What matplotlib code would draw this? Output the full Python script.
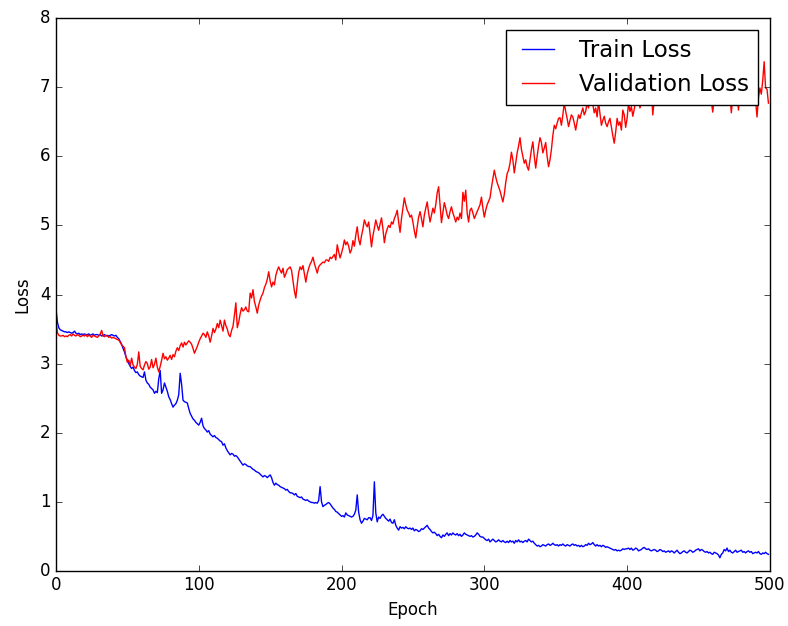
import numpy as np
import matplotlib
matplotlib.use('Agg')
import matplotlib.pyplot as plt

plt.style.use('classic')

# loss per epoch, 500 epochs
train_loss = [
    3.80, 3.60, 3.52, 3.49, 3.48, 3.47, 3.46, 3.46, 3.45, 3.46,
    3.45, 3.44, 3.45, 3.47, 3.44, 3.43, 3.44, 3.42, 3.43, 3.42,
    3.43, 3.42, 3.42, 3.43, 3.41, 3.42, 3.43, 3.41, 3.42, 3.42,
    3.41, 3.42, 3.40, 3.41, 3.42, 3.40, 3.41, 3.40, 3.41, 3.42,
    3.41, 3.40, 3.41, 3.38, 3.36, 3.32, 3.28, 3.22, 3.17, 3.10,
    3.05, 3.00, 2.96, 2.93, 2.95, 2.90, 2.87, 2.88, 2.84, 2.82,
    2.81, 2.80, 2.88, 2.76, 2.72, 2.70, 2.66, 2.64, 2.62, 2.57,
    2.60, 2.58, 2.78, 2.90, 2.57, 2.62, 2.72, 2.66, 2.60, 2.52,
    2.48, 2.42, 2.37, 2.40, 2.42, 2.47, 2.55, 2.86, 2.70, 2.47,
    2.45, 2.44, 2.43, 2.35, 2.28, 2.24, 2.20, 2.18, 2.15, 2.13,
    2.11, 2.15, 2.21, 2.10, 2.06, 2.04, 2.01, 2.03, 1.98, 1.96,
    1.94, 1.96, 1.93, 1.92, 1.90, 1.88, 1.87, 1.82, 1.84, 1.78,
    1.74, 1.71, 1.68, 1.70, 1.69, 1.66, 1.67, 1.65, 1.62, 1.59,
    1.56, 1.53, 1.55, 1.54, 1.52, 1.51, 1.51, 1.49, 1.47, 1.46,
    1.44, 1.43, 1.42, 1.40, 1.38, 1.36, 1.38, 1.37, 1.35, 1.37,
    1.39, 1.35, 1.28, 1.24, 1.27, 1.25, 1.24, 1.22, 1.21, 1.20,
    1.19, 1.17, 1.18, 1.15, 1.13, 1.13, 1.12, 1.10, 1.12, 1.08,
    1.07, 1.06, 1.07, 1.04, 1.03, 1.02, 1.03, 1.01, 1.00, 0.99,
    0.99, 0.98, 0.99, 0.98, 1.02, 1.22, 1.00, 0.93, 0.95, 0.96,
    0.98, 0.99, 0.97, 0.94, 0.91, 0.89, 0.86, 0.85, 0.83, 0.81,
    0.79, 0.80, 0.78, 0.84, 0.81, 0.80, 0.79, 0.78, 0.79, 0.82,
    0.88, 1.10, 0.85, 0.74, 0.69, 0.72, 0.76, 0.75, 0.74, 0.77,
    0.77, 0.73, 0.80, 1.29, 0.84, 0.71, 0.78, 0.76, 0.80, 0.82,
    0.79, 0.76, 0.74, 0.72, 0.75, 0.70, 0.69, 0.74, 0.66, 0.62,
    0.59, 0.64, 0.62, 0.63, 0.61, 0.64, 0.62, 0.61, 0.62, 0.60,
    0.62, 0.58, 0.60, 0.59, 0.57, 0.58, 0.61, 0.60, 0.62, 0.64,
    0.66, 0.62, 0.60, 0.57, 0.55, 0.56, 0.54, 0.51, 0.53, 0.50,
    0.48, 0.52, 0.50, 0.53, 0.55, 0.51, 0.54, 0.52, 0.55, 0.53,
    0.52, 0.54, 0.51, 0.53, 0.50, 0.52, 0.55, 0.53, 0.52, 0.51,
    0.50, 0.51, 0.49, 0.50, 0.52, 0.55, 0.53, 0.50, 0.49, 0.49,
    0.47, 0.45, 0.44, 0.46, 0.42, 0.44, 0.46, 0.44, 0.42, 0.43,
    0.45, 0.43, 0.42, 0.44, 0.42, 0.41, 0.43, 0.41, 0.44, 0.42,
    0.43, 0.40, 0.44, 0.42, 0.45, 0.42, 0.43, 0.41, 0.43, 0.44,
    0.42, 0.46, 0.44, 0.42, 0.43, 0.40, 0.38, 0.36, 0.37, 0.35,
    0.36, 0.38, 0.37, 0.36, 0.38, 0.39, 0.37, 0.38, 0.40, 0.38,
    0.37, 0.38, 0.36, 0.38, 0.37, 0.39, 0.37, 0.36, 0.38, 0.37,
    0.36, 0.38, 0.39, 0.37, 0.38, 0.36, 0.37, 0.35, 0.37, 0.35,
    0.36, 0.38, 0.37, 0.40, 0.38, 0.39, 0.41, 0.38, 0.36, 0.38,
    0.36, 0.37, 0.35, 0.37, 0.36, 0.34, 0.35, 0.34, 0.33, 0.32,
    0.31, 0.30, 0.31, 0.29, 0.30, 0.29, 0.30, 0.32, 0.31, 0.32,
    0.32, 0.33, 0.31, 0.33, 0.30, 0.31, 0.33, 0.32, 0.29, 0.30,
    0.31, 0.33, 0.34, 0.32, 0.31, 0.32, 0.30, 0.29, 0.30, 0.31,
    0.30, 0.28, 0.29, 0.31, 0.30, 0.28, 0.29, 0.27, 0.28, 0.29,
    0.27, 0.29, 0.28, 0.26, 0.28, 0.30, 0.27, 0.25, 0.26, 0.28,
    0.29, 0.27, 0.26, 0.28, 0.30, 0.29, 0.27, 0.28, 0.30, 0.31,
    0.32, 0.29, 0.31, 0.30, 0.28, 0.27, 0.28, 0.26, 0.27, 0.25,
    0.24, 0.27, 0.26, 0.25, 0.23, 0.19, 0.24, 0.26, 0.31, 0.29,
    0.33, 0.28, 0.30, 0.27, 0.26, 0.28, 0.30, 0.27, 0.28, 0.29,
    0.30, 0.27, 0.28, 0.26, 0.28, 0.29, 0.27, 0.28, 0.25, 0.26,
    0.27, 0.26, 0.28, 0.25, 0.24, 0.26, 0.25, 0.27, 0.25, 0.24,
]

val_loss = [
    3.62, 3.45, 3.41, 3.40, 3.40, 3.41, 3.39, 3.40, 3.39, 3.41,
    3.42, 3.40, 3.43, 3.41, 3.40, 3.42, 3.41, 3.39, 3.40, 3.41,
    3.40, 3.42, 3.39, 3.41, 3.40, 3.38, 3.41, 3.40, 3.39, 3.38,
    3.40, 3.43, 3.48, 3.40, 3.39, 3.41, 3.40, 3.38, 3.39, 3.37,
    3.38, 3.37, 3.36, 3.35, 3.34, 3.31, 3.27, 3.25, 3.23, 3.10,
    3.02, 3.05, 2.97, 3.08, 2.98, 2.95, 2.93, 2.99, 3.17, 2.96,
    2.93, 2.91, 2.98, 3.03, 3.00, 2.92, 2.95, 3.06, 2.94, 2.99,
    3.08, 2.95, 2.88, 2.96, 3.05, 3.15, 3.07, 3.10, 3.05, 3.08,
    3.12, 3.06, 3.13, 3.10, 3.18, 3.23, 3.19, 3.26, 3.30, 3.24,
    3.31, 3.27, 3.30, 3.33, 3.31, 3.28, 3.22, 3.15, 3.20, 3.25,
    3.31, 3.36, 3.40, 3.44, 3.42, 3.38, 3.46, 3.40, 3.31, 3.40,
    3.51, 3.45, 3.50, 3.58, 3.52, 3.63, 3.55, 3.47, 3.63, 3.55,
    3.50, 3.42, 3.39, 3.48, 3.54, 3.70, 3.88, 3.52, 3.60, 3.72,
    3.81, 3.76, 3.78, 3.82, 3.76, 3.75, 4.02, 3.95, 4.07, 3.90,
    3.82, 3.73, 3.85, 3.92, 3.98, 4.02, 4.10, 4.15, 4.22, 4.33,
    4.20, 4.11, 4.18, 4.14, 4.28, 4.35, 4.40, 4.35, 4.31, 4.38,
    4.25, 4.30, 4.36, 4.38, 4.40, 4.35, 4.20, 4.05, 3.95, 4.15,
    4.32, 4.40, 4.36, 4.42, 4.30, 4.18, 4.30, 4.38, 4.44, 4.48,
    4.54, 4.45, 4.38, 4.31, 4.40, 4.43, 4.45, 4.47, 4.46, 4.50,
    4.50, 4.48, 4.54, 4.52, 4.55, 4.58, 4.50, 4.72, 4.62, 4.53,
    4.60, 4.68, 4.79, 4.72, 4.76, 4.70, 4.60, 4.65, 4.78, 4.70,
    4.86, 4.98, 4.80, 4.72, 4.85, 4.95, 5.08, 5.02, 4.98, 5.05,
    4.88, 4.69, 4.85, 4.96, 5.08, 5.00, 4.93, 5.02, 5.11, 4.95,
    4.75, 4.88, 4.95, 5.00, 4.97, 5.05, 5.02, 5.10, 5.15, 5.22,
    5.05, 4.90, 5.10, 5.25, 5.40, 5.30, 5.22, 5.18, 5.12, 5.15,
    5.05, 4.92, 4.82, 4.98, 5.12, 5.20, 5.10, 4.98, 5.15, 5.25,
    5.34, 5.18, 5.05, 5.15, 5.25, 5.18, 5.30, 5.47, 5.56, 5.30,
    5.04, 5.18, 5.33, 5.25, 5.15, 5.10, 5.20, 5.27, 5.18, 5.12,
    5.05, 5.12, 5.08, 5.18, 5.10, 5.48, 5.35, 5.51, 5.18, 5.05,
    5.22, 5.25, 5.18, 5.10, 5.15, 5.20, 5.25, 5.30, 5.41, 5.25,
    5.12, 5.22, 5.30, 5.35, 5.40, 5.55, 5.68, 5.80, 5.70, 5.62,
    5.56, 5.50, 5.42, 5.34, 5.45, 5.62, 5.75, 5.80, 5.90, 6.06,
    5.95, 5.76, 5.90, 6.05, 6.15, 6.27, 6.10, 6.00, 5.90, 5.95,
    5.85, 5.80, 5.95, 6.10, 6.21, 6.00, 5.83, 6.00, 6.15, 6.27,
    6.20, 6.05, 6.12, 6.20, 6.00, 5.85, 5.95, 6.10, 6.30, 6.45,
    6.40, 6.48, 6.55, 6.56, 6.45, 6.60, 6.77, 6.65, 6.55, 6.43,
    6.52, 6.60, 6.57, 6.48, 6.38, 6.50, 6.60, 6.55, 6.63, 6.70,
    6.60, 6.65, 6.78, 6.70, 6.88, 6.92, 6.75, 6.63, 6.70, 6.57,
    6.79, 6.62, 6.45, 6.52, 6.58, 6.48, 6.43, 6.50, 6.55, 6.42,
    6.30, 6.19, 6.35, 6.55, 6.45, 6.50, 6.38, 6.67, 6.60, 6.42,
    6.55, 6.77, 6.65, 6.72, 6.58, 6.68, 6.80, 6.75, 6.85, 6.70,
    6.78, 6.92, 6.85, 6.75, 6.88, 6.82, 6.75, 6.95, 6.60, 6.82,
    6.90, 7.00, 6.88, 6.95, 7.05, 6.92, 6.98, 6.85, 7.02, 6.94,
    6.88, 6.97, 7.05, 6.92, 6.98, 7.08, 6.90, 6.95, 7.02, 6.88,
    6.96, 7.04, 6.92, 6.86, 7.00, 6.95, 6.90, 7.06, 6.98, 6.92,
    6.95, 7.02, 6.88, 6.96, 6.90, 7.00, 6.94, 6.85, 6.95, 6.80,
    6.64, 6.85, 6.95, 6.90, 7.02, 6.88, 6.96, 6.84, 6.92, 6.88,
    6.98, 6.86, 6.90, 6.63, 6.85, 6.95, 6.88, 6.92, 6.67, 6.90,
    6.96, 6.88, 7.02, 6.90, 6.95, 6.85, 6.98, 6.92, 6.88, 6.95,
    6.80, 6.57, 6.85, 6.99, 6.90, 7.10, 7.37, 6.99, 6.97, 6.77,
]

epochs = np.arange(len(train_loss))

fig = plt.figure(figsize=(7.88, 6.26), facecolor='white')
fig.subplots_adjust(left=0.071, right=0.977, bottom=0.088, top=0.971)
ax = fig.add_subplot(111)

ax.plot(epochs, train_loss, color='b', linewidth=1.0, label='Train Loss')
ax.plot(epochs, val_loss, color='r', linewidth=1.0, label='Validation Loss')

ax.set_xlim(0, 500)
ax.set_ylim(0, 8)
ax.set_xlabel('Epoch')
ax.set_ylabel('Loss', labelpad=6)
ax.legend(loc='upper right', fontsize=16.5)

plt.savefig('out.png', dpi=100, facecolor='white')
